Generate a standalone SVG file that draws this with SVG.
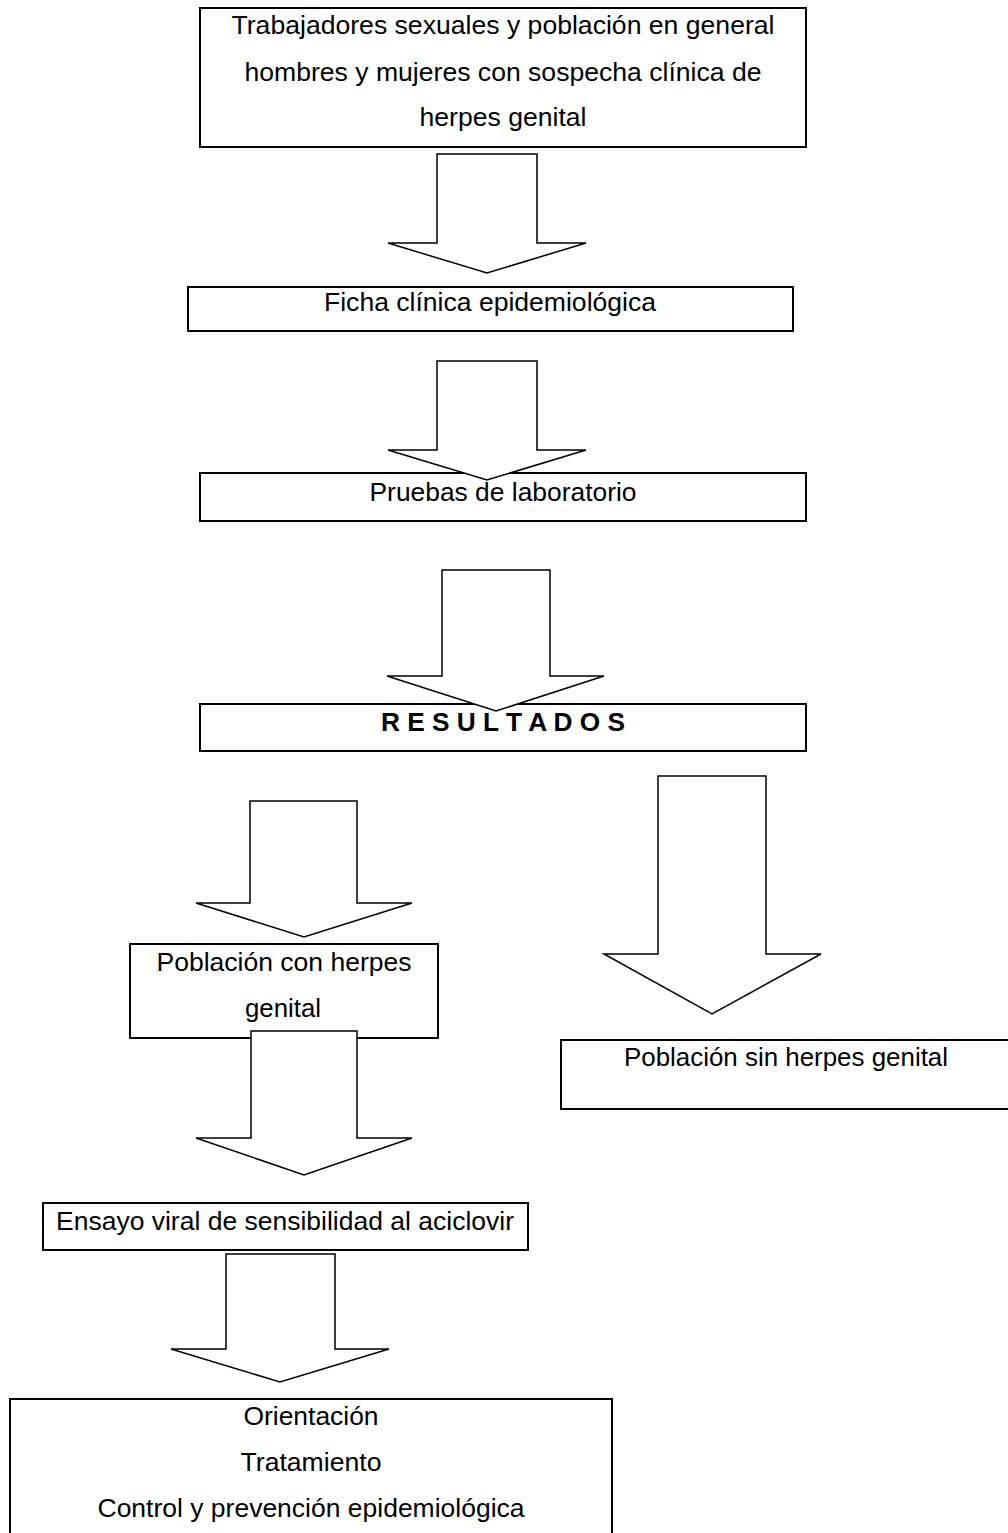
<svg xmlns="http://www.w3.org/2000/svg" width="1008" height="1533" viewBox="0 0 1008 1533">
<style>
.box{fill:#fff;stroke:#000;stroke-width:2}
.arr{fill:#fff;stroke:#000;stroke-width:1.5;stroke-linejoin:miter}
text{font-family:"Liberation Sans",Arial,sans-serif;font-size:26px;fill:#000;text-anchor:middle}
.b{font-weight:bold}
</style>
<rect width="1008" height="1533" fill="#fff"/>
<g id="n1"><rect class="box" x="200" y="8" width="606" height="139"/>
<text x="503" y="34" textLength="543" lengthAdjust="spacingAndGlyphs">Trabajadores sexuales y población en general</text>
<text x="503" y="81" textLength="517" lengthAdjust="spacingAndGlyphs">hombres y mujeres con sospecha clínica de</text>
<text x="503" y="126" textLength="167" lengthAdjust="spacingAndGlyphs">herpes genital</text></g>
<g id="n2"><rect class="box" x="188" y="287" width="605" height="44"/>
<text x="490" y="311" textLength="332" lengthAdjust="spacingAndGlyphs">Ficha clínica epidemiológica</text></g>
<g id="n3"><rect class="box" x="200" y="473" width="606" height="48"/>
<text x="503" y="501" textLength="267" lengthAdjust="spacingAndGlyphs">Pruebas de laboratorio</text></g>
<g id="n4"><rect class="box" x="200" y="704" width="606" height="47"/>
<text class="b" x="503" y="731" textLength="244" lengthAdjust="spacingAndGlyphs">R E S U L T A D O S</text></g>
<g id="n5"><rect class="box" x="130" y="944" width="308" height="94"/>
<text x="284" y="971" textLength="255" lengthAdjust="spacingAndGlyphs">Población con herpes</text>
<text x="283" y="1017" textLength="76" lengthAdjust="spacingAndGlyphs">genital</text></g>
<g id="n6"><rect class="box" x="561" y="1040" width="455" height="69"/>
<text x="786" y="1066" textLength="324" lengthAdjust="spacingAndGlyphs">Población sin herpes genital</text></g>
<g id="n7"><rect class="box" x="43" y="1203" width="485" height="47"/>
<text x="285" y="1230" textLength="458" lengthAdjust="spacingAndGlyphs">Ensayo viral de sensibilidad al aciclovir</text></g>
<g id="n8"><rect class="box" x="10" y="1399" width="602" height="150"/>
<text x="311" y="1425" textLength="135" lengthAdjust="spacingAndGlyphs">Orientación</text>
<text x="311" y="1471" textLength="141" lengthAdjust="spacingAndGlyphs">Tratamiento</text>
<text x="311" y="1517" textLength="427" lengthAdjust="spacingAndGlyphs">Control y prevención epidemiológica</text></g>
<g id="connectors">
<polygon class="arr" points="437,154 537,154 537,243 586,243 487,273 388,243 437,243"/>
<polygon class="arr" points="437,361 537,361 537,450 586,450 487,480 388,450 437,450"/>
<polygon class="arr" points="442,570 550,570 550,676 604,676 496,711 387,676 442,676"/>
<polygon class="arr" points="250,801 357,801 357,903 412,903 304,937 196,903 250,903"/>
<polygon class="arr" points="251,1031 357,1031 357,1138 412,1138 304,1175 196,1138 251,1138"/>
<polygon class="arr" points="658,776 766,776 766,954 821,954 712,1014 604,954 658,954"/>
<polygon class="arr" points="226,1254 335,1254 335,1349 389,1349 280,1382 171,1349 226,1349"/>
</g>
</svg>
